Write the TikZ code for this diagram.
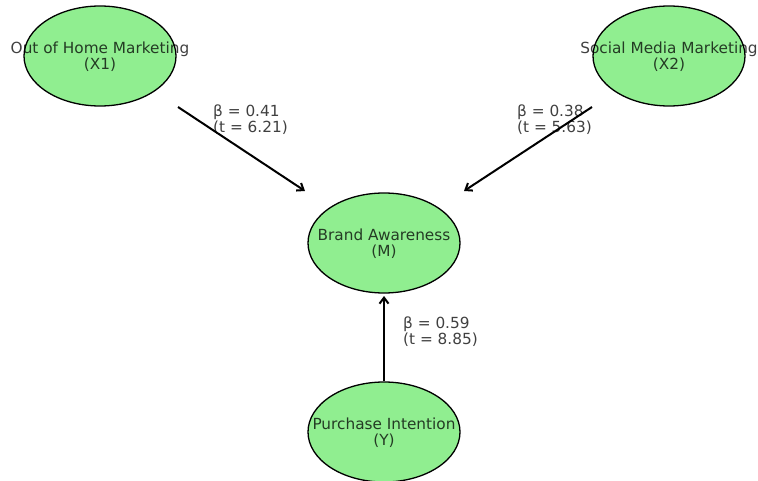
\documentclass[tikz,border=0pt]{standalone}
\usepackage{fontspec}
\setmainfont{DejaVu Sans}
\usetikzlibrary{arrows.meta,shapes.geometric}
\definecolor{lgreen}{HTML}{90EE90}
\tikzset{
  var/.style={ellipse, draw=black, line width=1.3pt, fill=lgreen, minimum width=152pt, minimum height=100pt, inner sep=0pt},
  txt/.style={align=center, inner sep=0pt, text opacity=0.75, font=\fontsize{15.3}{16}\selectfont},
  lbl/.style={align=left, anchor=west, inner sep=0pt, text opacity=0.75, font=\fontsize{15.3}{16}\selectfont},
  arr/.style={-{Straight Barb[length=6pt,width=9pt,line width=2pt]}, line width=2pt}
}
\begin{document}
\begin{tikzpicture}[x=1pt,y=-1pt]
\useasboundingbox (0,0) rectangle (758,481);
\begin{scope}
\clip (0,0) rectangle (758,481);
\node[var] (x1) at (100,56) {};
\node[var] (x2) at (669,56) {};
\node[var] (m) at (384,243) {};
\node[var] (y) at (384,432) {};
\end{scope}
\node[txt] (t1) at ([yshift=-1pt]x1) {Out of Home Marketing\\(X1)};
\node[txt] (t2) at ([yshift=-1pt]x2) {Social Media Marketing\\(X2)};
\node[txt] (tm) at ([yshift=-1pt]m) {Brand Awareness\\(M)};
\node[txt] (ty) at ([yshift=-1pt]y) {Purchase Intention\\(Y)};
\coordinate (s1) at (178,107);
\coordinate (e1) at (305,191);
\coordinate (s2) at (592,107);
\coordinate (e2) at (464,191);
\coordinate (s3) at (384,381);
\coordinate (e3) at (384,296);
\draw[arr] (s1) -- (e1);
\draw[arr] (s2) -- (e2);
\draw[arr] (s3) -- (e3);
\node[lbl] (l1) at (213,120) {β = 0.41\\(t = 6.21)};
\node[lbl] (l2) at (517,120) {β = 0.38\\(t = 5.63)};
\node[lbl] (l3) at (403,332) {β = 0.59\\(t = 8.85)};
\end{tikzpicture}
\end{document}
